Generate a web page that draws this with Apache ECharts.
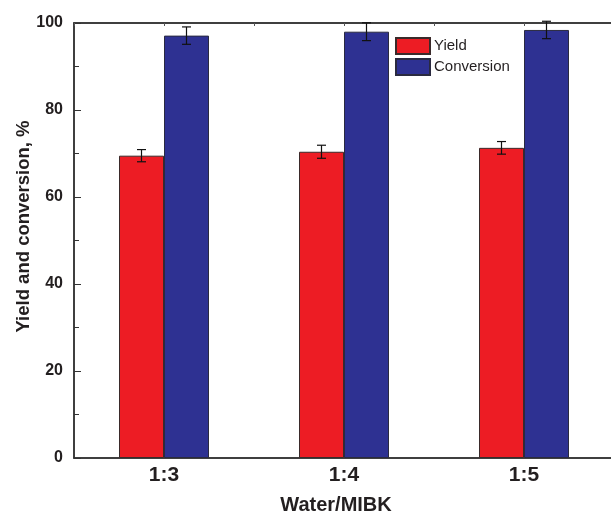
<!DOCTYPE html>
<html>
<head>
<meta charset="utf-8">
<script src="https://cdn.jsdelivr.net/npm/echarts@6/dist/echarts.min.js"></script>
<style>
  html, body { margin: 0; padding: 0; background: #fff; overflow: hidden; }
  #chart { width: 611px; height: 513px; }
</style>
</head>
<body>
<div id="chart"></div>
<script>
// Water/MIBK ratio vs. yield and conversion (%), with standard deviations
const categories = ['1:3', '1:4', '1:5'];
const yieldValues = [69.5, 70.4, 71.3];
const yieldErrors = [1.4, 1.5, 1.45];
const conversionValues = [97.1, 98.0, 98.4];
const conversionErrors = [2.0, 2.05, 2.0];
const yTicks = [0, 20, 40, 60, 80, 100];

const FONT = "Arial, 'Liberation Sans', sans-serif";
const INK = '#231f20';

// Error bar renderer; side = -1 for the left bar of a group, +1 for the right
function errorBar(side) {
  return function (params, api) {
    const idx = api.value(0);
    const v = api.value(1);
    const e = api.value(2);
    const band = api.size([1, 0])[0];
    const x = api.coord([idx, v])[0] + side * band * 0.125;
    const yHi = api.coord([idx, v + e])[1];
    const yLo = api.coord([idx, v - e])[1];
    const cap = 4.5;
    const style = { stroke: '#111', lineWidth: 1.2 };
    return {
      type: 'group',
      children: [
        { type: 'line', shape: { x1: x, y1: yHi, x2: x, y2: yLo }, style },
        { type: 'line', shape: { x1: x - cap, y1: yHi, x2: x + cap, y2: yHi }, style },
        { type: 'line', shape: { x1: x - cap, y1: yLo, x2: x + cap, y2: yLo }, style }
      ]
    };
  };
}

const chart = echarts.init(document.getElementById('chart'), null, { renderer: 'canvas' });

chart.setOption({
  animation: false,
  backgroundColor: '#fff',
  textStyle: { fontFamily: FONT },
  grid: {
    left: 74, right: -3, top: 23, bottom: 55,
    show: true, borderColor: '#333', borderWidth: 1.5,
    containLabel: false,
    outerBoundsMode: 'none'
  },
  legend: {
    data: ['Yield', 'Conversion'],
    orient: 'vertical',
    left: 395, top: 37,
    padding: 0,
    itemWidth: 34, itemHeight: 16, itemGap: 3,
    icon: 'rect',
    textStyle: { fontFamily: FONT, fontSize: 15, color: INK, padding: [0, 0, 0, -1] }
  },
  xAxis: [
    {
      type: 'category',
      data: categories,
      name: 'Water/MIBK',
      nameLocation: 'middle',
      nameGap: 37,
      nameMoveOverlap: false,
      nameTextStyle: { fontFamily: FONT, fontSize: 20, fontWeight: 'bold', color: INK, padding: [0, 16, 0, 0] },
      axisLine: { lineStyle: { color: '#333', width: 1.5 } },
      axisTick: { inside: true, length: 5, lineStyle: { color: '#333' } },
      axisLabel: { fontFamily: FONT, fontSize: 21, fontWeight: 'bold', color: INK, margin: 7 },
      splitLine: { show: false }
    },
    {
      type: 'value',
      position: 'top',
      min: 0, max: 3, interval: 0.5,
      axisLine: { show: true, lineStyle: { color: '#333', width: 1.5 } },
      axisTick: { show: true, inside: true, length: 3, lineStyle: { color: '#555' } },
      axisLabel: { show: false },
      splitLine: { show: false }
    }
  ],
  yAxis: {
    type: 'value',
    min: 0, max: 100, interval: 20,
    name: 'Yield and conversion, %',
    nameLocation: 'middle',
    nameGap: 41,
    nameMoveOverlap: false,
    nameTextStyle: { fontFamily: FONT, fontSize: 18.5, fontWeight: 'bold', color: INK, padding: [0, 0, 0, 28] },
    axisLine: { show: true, lineStyle: { color: '#333', width: 1.5 } },
    axisTick: { show: true, inside: true, length: 7, lineStyle: { color: '#333' } },
    minorTick: { show: true, splitNumber: 2, length: 5, lineStyle: { color: '#333' } },
    axisLabel: {
      fontFamily: FONT, fontSize: 16, fontWeight: 'bold', color: INK, margin: 11,
      formatter: function (v) { return yTicks.indexOf(v) >= 0 ? String(v) : ''; }
    },
    splitLine: { show: false }
  },
  series: [
    {
      name: 'Yield',
      type: 'bar',
      data: yieldValues,
      barWidth: '25%',
      barGap: '0%',
      itemStyle: { color: '#ed1c24', borderColor: '#3a2a2a', borderWidth: 1 }
    },
    {
      name: 'Conversion',
      type: 'bar',
      data: conversionValues,
      barWidth: '25%',
      barGap: '0%',
      itemStyle: { color: '#2e3192', borderColor: '#2a2a40', borderWidth: 1 }
    },
    {
      type: 'custom',
      renderItem: errorBar(-1),
      data: yieldValues.map((v, i) => [i, v, yieldErrors[i]]),
      encode: { x: 0, y: 1 },
      z: 10
    },
    {
      type: 'custom',
      renderItem: errorBar(1),
      data: conversionValues.map((v, i) => [i, v, conversionErrors[i]]),
      encode: { x: 0, y: 1 },
      z: 10
    }
  ]
});
</script>
</body>
</html>
